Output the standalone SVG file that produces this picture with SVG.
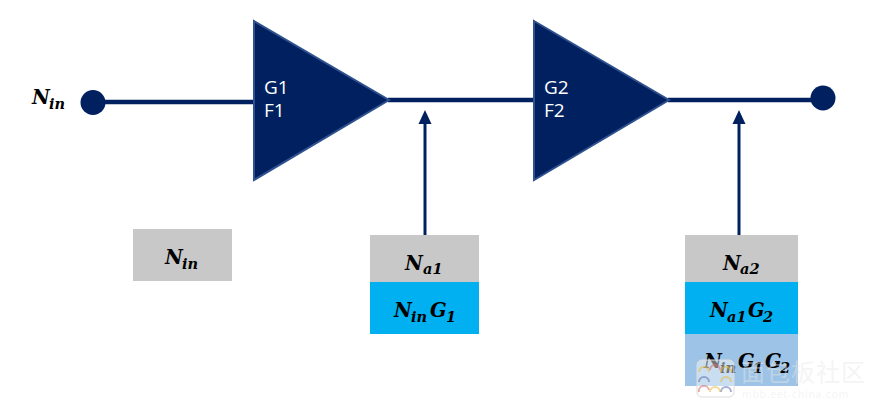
<svg xmlns="http://www.w3.org/2000/svg" width="873" height="410" viewBox="0 0 873 410">
<style>
.amp{fill:#002060;stroke:#2f528f;stroke-width:2}
.w{stroke:#002060;stroke-width:4.5;fill:none}
.up{stroke:#002060;stroke-width:3;fill:none}
.dot{fill:#002060}
.lab{font-family:"Open Sans","Noto Sans",sans-serif;font-size:19px;fill:#fff}
.m{font-family:"DejaVu Serif","Liberation Serif",serif;font-weight:bold;font-style:italic;font-size:19.5px;fill:#000}
.s{font-size:14.5px}
.g{fill:#c8c8c8}.b{fill:#00b0f0}.l{fill:#9dc3e6}
.wm{font-family:"Noto Sans CJK SC",sans-serif;fill:#e8e8e8;fill-opacity:.45}
.arc{fill:none;stroke-width:2;stroke-opacity:.55}
</style>
<g id="connectors">
<line class="w" x1="93" y1="102" x2="255" y2="102"/>
<line class="w" x1="388" y1="100" x2="535" y2="100"/>
<line class="w" x1="668" y1="100" x2="823" y2="100"/>
<path d="M418.500 124L425 110L431.500 124Z" class="dot"/><line class="up" x1="425" y1="122" x2="425" y2="235"/>
<path d="M732.500 124L739 110L745.500 124Z" class="dot"/><line class="up" x1="739" y1="122" x2="739" y2="235"/>
</g>
<g id="input-dot"><circle class="dot" cx="93" cy="102.500" r="12.500"/></g>
<g id="output-dot"><circle class="dot" cx="823" cy="98" r="12.500"/></g>
<g id="input-label"><text class="m" x="32" y="104">N<tspan class="s" x="49" y="109">in</tspan></text></g>
<g id="amp1"><path class="amp" d="M254 21L389 100L254 180Z"/><text class="lab" x="264" y="94">G1</text><text class="lab" x="264" y="117">F1</text></g>
<g id="amp2"><path class="amp" d="M534 21L669 100L534 180Z"/><text class="lab" x="544" y="94">G2</text><text class="lab" x="544" y="117">F2</text></g>
<g id="box-nin"><rect class="g" x="133" y="229" width="99" height="52"/><text class="m" x="165" y="264">N<tspan class="s" x="182" y="269">in</tspan></text></g>
<g id="box-na1"><rect class="g" x="370" y="235" width="109" height="47"/><text class="m" x="405" y="270">N<tspan class="s" x="423" y="274">a1</tspan></text></g>
<g id="box-ning1"><rect class="b" x="370" y="282" width="109" height="52"/><text class="m" x="394" y="317">N<tspan class="s" x="411" y="322">in</tspan><tspan x="430" y="317">G</tspan><tspan class="s" x="446" y="322">1</tspan></text></g>
<g id="box-na2"><rect class="g" x="685" y="235" width="113" height="47"/><text class="m" x="723" y="270">N<tspan class="s" x="740" y="274">a2</tspan></text></g>
<g id="box-na1g2"><rect class="b" x="685" y="282" width="113" height="52"/><text class="m" x="710" y="317">N<tspan class="s" x="727" y="322">a1</tspan><tspan x="748" y="317">G</tspan><tspan class="s" x="763" y="322">2</tspan></text></g>
<g id="box-ning1g2"><rect class="l" x="685" y="334" width="113" height="52"/><text class="m" x="704" y="368">N<tspan class="s" x="720" y="373">in</tspan><tspan x="738" y="368">G</tspan><tspan class="s" x="753" y="373">1</tspan><tspan x="765" y="368">G</tspan><tspan class="s" x="780" y="373">2</tspan></text></g>
<g id="watermark"><rect x="697" y="360" width="37" height="37" rx="5" fill="#fff" fill-opacity=".45" stroke="#ddd"/>
<path class="arc" stroke="#e8b93c" d="M699 372a5 5 0 0 1 10 0M721 372a5 5 0 0 1 10 0"/>
<path class="arc" stroke="#d96a6a" d="M710 370a5 5 0 0 1 10 0M699 392a5 5 0 0 1 10-2"/>
<path class="arc" stroke="#5a6fb0" d="M699 382a5 5 0 0 1 10 0M721 392a5 5 0 0 1 10 0"/>
<path class="arc" stroke="#e8b93c" d="M710 392a5 5 0 0 1 10 0M721 382a5 5 0 0 1 10 0"/>
<text class="wm" x="741" y="381" font-size="24" letter-spacing="1">面包板社区</text><text class="wm" x="742" y="398" font-size="10.500" letter-spacing=".7">mbb.eet-china.com</text></g>
</svg>
